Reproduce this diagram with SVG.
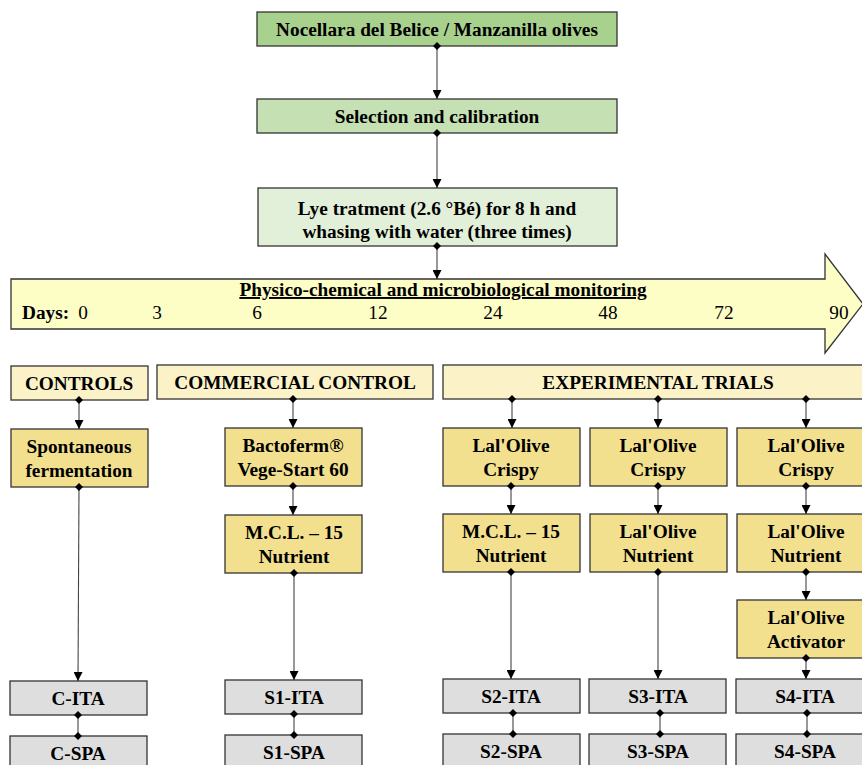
<svg xmlns="http://www.w3.org/2000/svg" width="862" height="765" viewBox="0 0 862 765">
<style>
text{font-family:"Liberation Serif","Times New Roman",serif;font-size:19.3px;font-weight:bold;fill:#000;text-anchor:middle}
.box{stroke:#333;stroke-width:1.3}
.g1{fill:#a9d18e}.g2{fill:#c5e0b3}.g3{fill:#e2efd9}
.hd{fill:#fbf2c8}.au{fill:#f2e08f}.gr{fill:#dedede}
.ban{fill:#fdfdc6;stroke:#333;stroke-width:1.3}
.reg{font-weight:normal}
.c{stroke:#444;stroke-width:1.1;fill:none;marker-start:url(#dia);marker-end:url(#arr)}
.d{stroke:#444;stroke-width:1.1;fill:none;marker-start:url(#dia);marker-end:url(#dia)}
</style>
<defs>
<marker id="arr" viewBox="0 0 10 10" refX="10" refY="5" markerWidth="9" markerHeight="9" markerUnits="userSpaceOnUse" orient="auto"><path d="M0,0 L10,5 L0,10 z" fill="#000"/></marker>
<marker id="dia" viewBox="0 0 10 10" refX="5" refY="5" markerWidth="8" markerHeight="8" markerUnits="userSpaceOnUse" orient="auto"><path d="M0,5 L5,0 L10,5 L5,10 z" fill="#000"/></marker>
</defs>

<g id="banner">
<path class="ban" d="M11,279 L825,279 L825,254 L863,304 L825,353 L825,329 L11,329 Z"/>
<text x="443" y="296" text-decoration="underline">Physico-chemical and microbiological monitoring</text>
<text x="22" y="319" style="text-anchor:start">Days:</text>
<text class="reg" x="83" y="319">0</text>
<text class="reg" x="157" y="319">3</text>
<text class="reg" x="257" y="319">6</text>
<text class="reg" x="378" y="319">12</text>
<text class="reg" x="493" y="319">24</text>
<text class="reg" x="608" y="319">48</text>
<text class="reg" x="724" y="319">72</text>
<text class="reg" x="839" y="319">90</text>
</g>

<g id="n-olives"><rect class="box g1" x="257" y="12" width="360" height="34"/><text x="437" y="36">Nocellara del Belice / Manzanilla olives</text></g>
<g id="n-selection"><rect class="box g2" x="257" y="99" width="360" height="34"/><text x="437" y="123">Selection and calibration</text></g>
<g id="n-lye"><rect class="box g3" x="258" y="188" width="359" height="58"/><text x="437" y="215">Lye tratment (2.6 °Bé) for 8 h and</text><text x="437" y="238">whasing with water (three times)</text></g>

<g id="h-controls"><rect class="box hd" x="11" y="366" width="137" height="34"/><text x="79" y="390">CONTROLS</text></g>
<g id="h-commercial"><rect class="box hd" x="157" y="365" width="276" height="34"/><text x="295" y="389">COMMERCIAL CONTROL</text></g>
<g id="h-experimental"><rect class="box hd" x="443" y="365" width="430" height="34"/><text x="658" y="389">EXPERIMENTAL TRIALS</text></g>

<g id="n-spont"><rect class="box au" x="11" y="429" width="137" height="58"/><text x="79" y="453">Spontaneous</text><text x="79" y="477">fermentation</text></g>
<g id="n-bacto"><rect class="box au" x="225" y="428" width="137" height="58"/><text x="293" y="452">Bactoferm®</text><text x="293" y="476">Vege-Start 60</text></g>
<g id="n-crispy1"><rect class="box au" x="443" y="428" width="137" height="58"/><text x="511" y="452">Lal'Olive</text><text x="511" y="476">Crispy</text></g>
<g id="n-crispy2"><rect class="box au" x="590" y="428" width="137" height="58"/><text x="658" y="452">Lal'Olive</text><text x="658" y="476">Crispy</text></g>
<g id="n-crispy3"><rect class="box au" x="737" y="428" width="137" height="58"/><text x="806" y="452">Lal'Olive</text><text x="806" y="476">Crispy</text></g>

<g id="n-mcl1"><rect class="box au" x="225" y="515" width="137" height="58"/><text x="294" y="539">M.C.L. – 15</text><text x="294" y="563">Nutrient</text></g>
<g id="n-mcl2"><rect class="box au" x="443" y="514" width="137" height="58"/><text x="511" y="538">M.C.L. – 15</text><text x="511" y="562">Nutrient</text></g>
<g id="n-nutr2"><rect class="box au" x="590" y="514" width="137" height="58"/><text x="658" y="538">Lal'Olive</text><text x="658" y="562">Nutrient</text></g>
<g id="n-nutr3"><rect class="box au" x="737" y="514" width="137" height="58"/><text x="806" y="538">Lal'Olive</text><text x="806" y="562">Nutrient</text></g>
<g id="n-activ"><rect class="box au" x="737" y="600" width="137" height="58"/><text x="806" y="624">Lal'Olive</text><text x="806" y="648">Activator</text></g>

<g id="n-cita"><rect class="box gr" x="10" y="681" width="137" height="34"/><text x="78" y="705">C-ITA</text></g>
<g id="n-s1ita"><rect class="box gr" x="225" y="680" width="137" height="34"/><text x="294" y="704">S1-ITA</text></g>
<g id="n-s2ita"><rect class="box gr" x="443" y="679" width="137" height="34"/><text x="511" y="703">S2-ITA</text></g>
<g id="n-s3ita"><rect class="box gr" x="589" y="679" width="137" height="34"/><text x="658" y="703">S3-ITA</text></g>
<g id="n-s4ita"><rect class="box gr" x="736" y="679" width="137" height="34"/><text x="805" y="703">S4-ITA</text></g>

<g id="n-cspa"><rect class="box gr" x="10" y="736" width="137" height="34"/><text x="78" y="760">C-SPA</text></g>
<g id="n-s1spa"><rect class="box gr" x="225" y="735" width="137" height="34"/><text x="294" y="759">S1-SPA</text></g>
<g id="n-s2spa"><rect class="box gr" x="443" y="734" width="137" height="34"/><text x="511" y="758">S2-SPA</text></g>
<g id="n-s3spa"><rect class="box gr" x="589" y="734" width="137" height="34"/><text x="658" y="758">S3-SPA</text></g>
<g id="n-s4spa"><rect class="box gr" x="736" y="734" width="137" height="34"/><text x="805" y="758">S4-SPA</text></g>

<g id="connectors">
<line class="c" x1="437" y1="46" x2="437" y2="99"/>
<line class="c" x1="437" y1="133" x2="437" y2="188"/>
<line class="c" x1="437" y1="246" x2="437" y2="279"/>
<line class="c" x1="79" y1="400" x2="79" y2="429"/>
<line class="c" x1="293" y1="399" x2="293" y2="428"/>
<line class="c" x1="512" y1="399" x2="512" y2="428"/>
<line class="c" x1="658" y1="399" x2="658" y2="428"/>
<line class="c" x1="806" y1="399" x2="806" y2="428"/>
<line class="c" x1="79" y1="487" x2="78" y2="681"/>
<line class="c" x1="293" y1="486" x2="293" y2="515"/>
<line class="c" x1="511" y1="486" x2="511" y2="514"/>
<line class="c" x1="658" y1="486" x2="658" y2="514"/>
<line class="c" x1="806" y1="486" x2="806" y2="514"/>
<line class="c" x1="294" y1="573" x2="294" y2="680"/>
<line class="c" x1="511" y1="572" x2="511" y2="679"/>
<line class="c" x1="658" y1="572" x2="658" y2="679"/>
<line class="c" x1="806" y1="572" x2="806" y2="600"/>
<line class="c" x1="806" y1="658" x2="806" y2="679"/>
<line class="d" x1="78" y1="715" x2="78" y2="736"/>
<line class="d" x1="294" y1="714" x2="294" y2="735"/>
<line class="d" x1="513" y1="713" x2="513" y2="734"/>
<line class="d" x1="660" y1="713" x2="660" y2="734"/>
<line class="d" x1="807" y1="713" x2="807" y2="734"/>
</g>
</svg>
